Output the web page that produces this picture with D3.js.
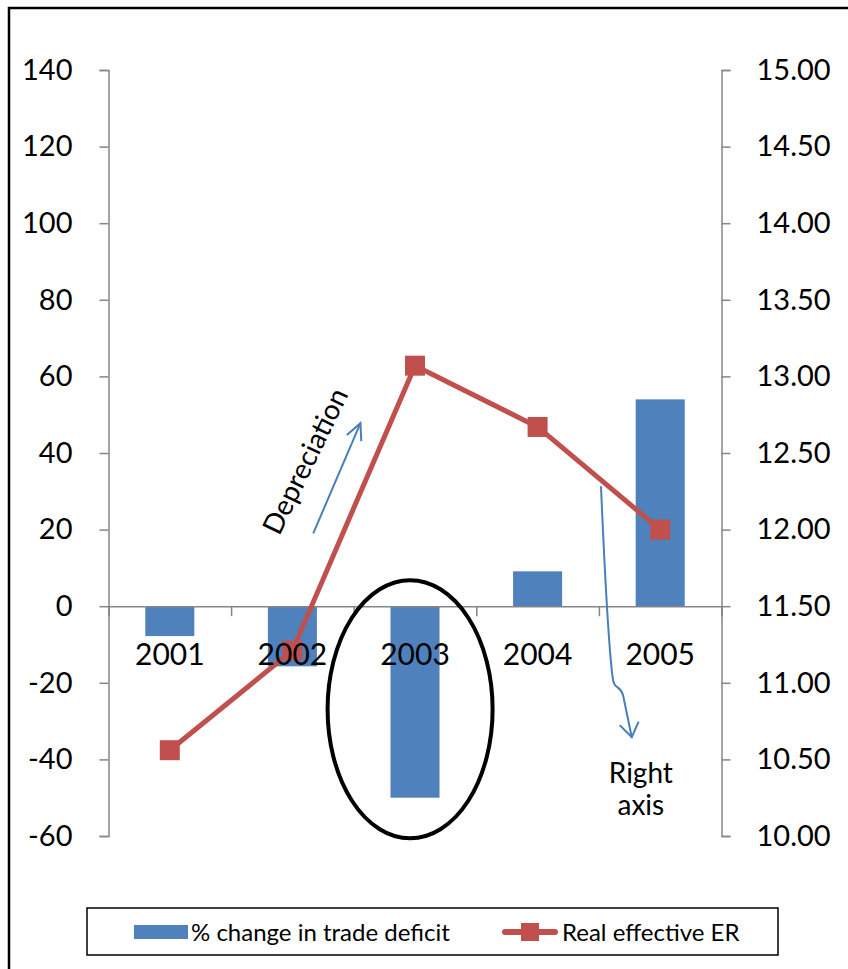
<!DOCTYPE html>
<html>
<head>
<meta charset="utf-8">
<script src="https://cdn.jsdelivr.net/npm/d3@7"></script>
<style>
  html, body { margin: 0; padding: 0; background: #fff; }
  svg { display: block; font-family: Lato, "Open Sans", sans-serif; }
</style>
</head>
<body>
<svg id="chart" width="848" height="969"></svg>
<script>
// Years on the category axis
const years = ["2001", "2002", "2003", "2004", "2005"];
// % change in trade deficit (left axis, bars)
const tradeDeficitChange = [-7.8, -15.7, -50, 9.1, 54];
// Real effective exchange rate (right axis, line)
const realEffectiveER = [10.56, 11.21, 13.07, 12.67, 12.00];
// Axis tick values
const leftTicks = [-60, -40, -20, 0, 20, 40, 60, 80, 100, 120, 140];
const rightTicks = [10, 10.5, 11, 11.5, 12, 12.5, 13, 13.5, 14, 14.5, 15];
// Legend labels
const seriesNames = ["% change in trade deficit", "Real effective ER"];

const BAR = "#4F81BD", LINE = "#C0504D", AXIS = "#868686", NOTE = "#4A7EBB";

const svg = d3.select("#chart");

// outer frame
svg.append("rect")
  .attr("x", 9).attr("y", 8).attr("width", 860).attr("height", 990)
  .attr("fill", "none").attr("stroke", "#000").attr("stroke-width", 2.5);

const plot = { left: 108.5, right: 721.5, top: 70, bottom: 836 };

const x = d3.scaleBand().domain(years).range([plot.left, plot.right]).paddingInner(0).paddingOuter(0);
// continuous category position (index units), used for ticks and notes
const xi = d3.scaleLinear().domain([-0.5, years.length - 0.5]).range([plot.left, plot.right]);
const yL = d3.scaleLinear().domain([-60, 140]).range([plot.bottom, plot.top]);
const yR = d3.scaleLinear().domain([10, 15]).range([plot.bottom, plot.top]);

// plain hyphen for negatives
const fmtInt = d => d3.format("d")(d).replace("\u2212", "-");

// Left axis
const gL = svg.append("g").attr("transform", `translate(${plot.left},0)`)
  .call(d3.axisLeft(yL).tickValues(leftTicks).tickSize(9).tickPadding(27).tickFormat(fmtInt));
// Right axis
const gR = svg.append("g").attr("transform", `translate(${plot.right},0)`)
  .call(d3.axisRight(yR).tickValues(rightTicks).tickSize(9).tickPadding(26).tickFormat(d3.format(".2f")));
[gL, gR].forEach(g => {
  g.select(".domain").attr("stroke", AXIS).attr("stroke-width", 1.5);
  g.selectAll(".tick line").attr("stroke", AXIS).attr("stroke-width", 1.5);
  g.selectAll(".tick text").attr("fill", "#000").style("font-size", "29px").style("font-family", "Lato, sans-serif");
});

// Bars
const barW = x.bandwidth() * 0.4;
svg.append("g").selectAll("rect").data(tradeDeficitChange).join("rect")
  .attr("x", (d, i) => x(years[i]) + (x.bandwidth() - barW) / 2)
  .attr("width", barW)
  .attr("y", d => yL(Math.max(0, d)))
  .attr("height", d => Math.abs(yL(d) - yL(0)))
  .attr("fill", BAR);

// Category axis at zero, ticks between categories
const gX = svg.append("g").attr("transform", `translate(0,${yL(0)})`)
  .call(d3.axisBottom(xi).tickValues(d3.range(-0.5, years.length, 1)).tickSize(10).tickFormat(""));
gX.select(".domain").attr("stroke", AXIS).attr("stroke-width", 1.5);
gX.selectAll(".tick line").attr("stroke", AXIS).attr("stroke-width", 1.5);

// Line series
const linePts = realEffectiveER.map((d, i) => [x(years[i]) + x.bandwidth() / 2, yR(d)]);
svg.append("path").datum(linePts)
  .attr("d", d3.line())
  .attr("fill", "none").attr("stroke", LINE).attr("stroke-width", 5).attr("stroke-linejoin", "round");
svg.append("g").selectAll("rect").data(linePts).join("rect")
  .attr("x", d => d[0] - 10).attr("y", d => d[1] - 10)
  .attr("width", 20).attr("height", 20).attr("fill", LINE);

// Category labels
svg.append("g").selectAll("text").data(years).join("text")
  .attr("x", d => x(d) + x.bandwidth() / 2)
  .attr("y", yL(0) + 59)
  .attr("text-anchor", "middle")
  .style("font-size", "30px")
  .text(d => d);

// Notes, placed in (category index, left-axis value) space
const P = (ci, v) => [xi(ci), yL(v)];
function arrowHead(tip, from, len, ang) {
  const dx = from[0] - tip[0], dy = from[1] - tip[1];
  const a = Math.atan2(dy, dx);
  const p1 = [tip[0] + len * Math.cos(a + ang), tip[1] + len * Math.sin(a + ang)];
  const p2 = [tip[0] + len * Math.cos(a - ang), tip[1] + len * Math.sin(a - ang)];
  return `M${p1}L${tip}L${p2}`;
}
const notes = svg.append("g").attr("fill", "none").attr("stroke", NOTE).attr("stroke-width", 2);

// "Depreciation" arrow
const dStart = P(1.17, 19), dEnd = P(1.555, 47.8);
notes.append("path").attr("d", `M${dStart}L${dEnd}`);
notes.append("path").attr("d", arrowHead(dEnd, dStart, 18, 0.45));
const dText = P(1.105, 37.9);
svg.append("text")
  .attr("transform", `translate(${dText}) rotate(-64)`)
  .attr("text-anchor", "middle").attr("dy", "0.35em")
  .style("font-size", "28px")
  .text("Depreciation");

// "Right axis" arrow with a small curl near its end
const rStart = P(3.517, 31.3), rTip = P(3.768, -34.2);
notes.append("path")
  .attr("d", `M${rStart}C${P(3.55, 6.8)} ${P(3.582, -11.5)} ${P(3.613, -18.8)}` +
             `C${P(3.623, -21.9)} ${P(3.672, -20.4)} ${P(3.697, -23.2)}L${rTip}`);
notes.append("path").attr("d", arrowHead(rTip, P(3.72, -26), 17, 0.6));
const rt = svg.append("text").attr("text-anchor", "middle").style("font-size", "28px");
rt.append("tspan").attr("x", xi(3.842)).attr("y", yL(-46.2)).text("Right");
rt.append("tspan").attr("x", xi(3.842)).attr("y", yL(-54.6)).text("axis");

// Ellipse round the 2003 bar
const ec = P(1.96, -26.9);
svg.append("ellipse")
  .attr("cx", ec[0]).attr("cy", ec[1])
  .attr("rx", xi(1.96 + 0.673) - xi(1.96))
  .attr("ry", yL(-26.9 - 33.7) - yL(-26.9))
  .attr("fill", "none").attr("stroke", "#000").attr("stroke-width", 4);

// Legend
const lg = svg.append("g");
lg.append("rect").attr("x", 87).attr("y", 908).attr("width", 691).attr("height", 47)
  .attr("fill", "#fff").attr("stroke", "#000").attr("stroke-width", 1.5);
lg.append("rect").attr("x", 134).attr("y", 925).attr("width", 54).attr("height", 14).attr("fill", BAR);
lg.append("text").attr("x", 191).attr("y", 941).style("font-size", "24px").text(seriesNames[0]);
lg.append("line").attr("x1", 505).attr("x2", 555).attr("y1", 932).attr("y2", 932)
  .attr("stroke", LINE).attr("stroke-width", 6).attr("stroke-linecap", "round");
lg.append("rect").attr("x", 521).attr("y", 923).attr("width", 18).attr("height", 18).attr("fill", LINE);
lg.append("text").attr("x", 562).attr("y", 941).style("font-size", "24px").text(seriesNames[1]);
</script>
</body>
</html>
